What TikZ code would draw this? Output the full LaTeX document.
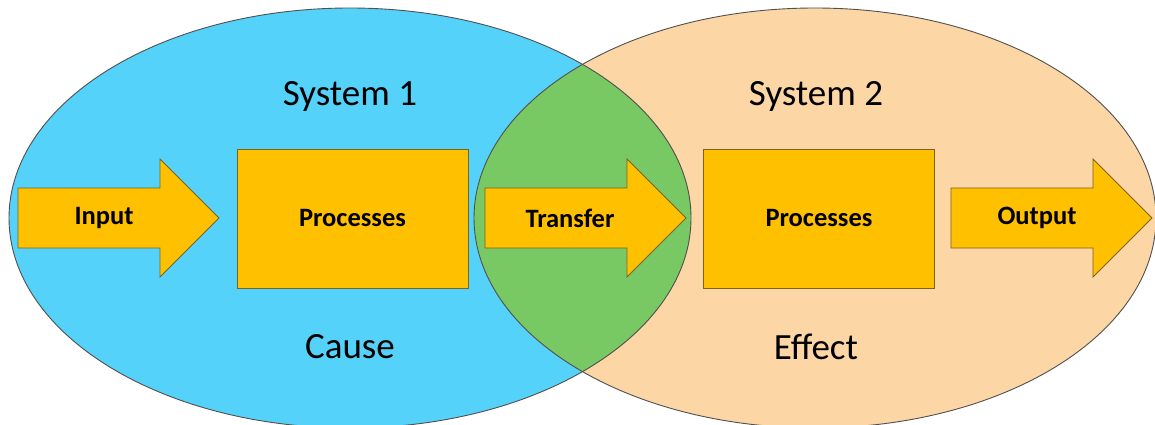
\documentclass[tikz,border=0pt]{standalone}
\usepackage{fontspec}
\setmainfont{Carlito}

\definecolor{skyblue}{HTML}{55D2FA}
\definecolor{peach}{HTML}{FCD6A4}
\definecolor{leafgreen}{HTML}{78C864}
\definecolor{gold}{HTML}{FFC000}
\definecolor{goldline}{HTML}{7A6420}
\definecolor{rimgray}{HTML}{505050}

\tikzset{
  flowarrow/.style={draw=goldline, fill=gold, line width=0.9pt, line join=miter},
  procbox/.style={draw=goldline, fill=gold, line width=0.9pt,
    minimum width=231pt, minimum height=139pt, inner sep=0pt,
    font=\fontsize{26.5}{30}\selectfont\bfseries},
  arrowtext/.style={font=\fontsize{26.5}{30}\selectfont\bfseries},
  title/.style={font=\fontsize{37}{42}\selectfont},
  rim/.style={draw=rimgray, line width=0.9pt}
}

% block arrow starting at the middle of its tail: shaft 142 x 60, head 59 long, 118 tall
\newcommand{\blockarrow}[2]{%
  \draw[flowarrow] (#1) coordinate (#2)
    -- ++(0,-30) -- ++(142,0) -- ++(0,-29) -- ++(59,59)
    -- ++(-59,59) -- ++(0,-29) -- ++(-142,0) -- cycle;}

\begin{document}
\begin{tikzpicture}[x=1pt, y=-1pt]
  \useasboundingbox (0,0) rectangle (1155,425);
  \begin{scope}
    \clip (0,0) rectangle (1155,425);
    % the two systems
    \fill[skyblue] (350,218) ellipse [x radius=341pt, y radius=210pt];
    \fill[peach] (815,218) ellipse [x radius=341pt, y radius=210pt];
    % shared region
    \begin{scope}
      \clip (350,218) ellipse [x radius=341pt, y radius=210pt];
      \fill[leafgreen] (815,218) ellipse [x radius=341pt, y radius=210pt];
    \end{scope}
    \draw[rim] (350,218) ellipse [x radius=341pt, y radius=210pt];
    \draw[rim] (815,218) ellipse [x radius=341pt, y radius=210pt];
  \end{scope}

  % titles
  \node[title] (sys1) at (350,96) {System 1};
  \node[title] (sys2) at (816,96) {System 2};
  \node[title] (cause) at (350,347) {Cause};
  \node[title] (effect) at (816,347) {Effect};

  % flow arrows
  \blockarrow{18,218}{input}
  \blockarrow{485,218}{transfer}
  \blockarrow{951,218}{output}
  \node[arrowtext] (inputlbl) at (104,218) {Input};
  \node[arrowtext] (transferlbl) at (570,218) {Transfer};
  \node[arrowtext] (outputlbl) at (1037,218) {Output};

  % process boxes
  \node[procbox] (proc1) at (352.5,218.5) {Processes};
  \node[procbox] (proc2) at (819,218.5) {Processes};
\end{tikzpicture}
\end{document}
